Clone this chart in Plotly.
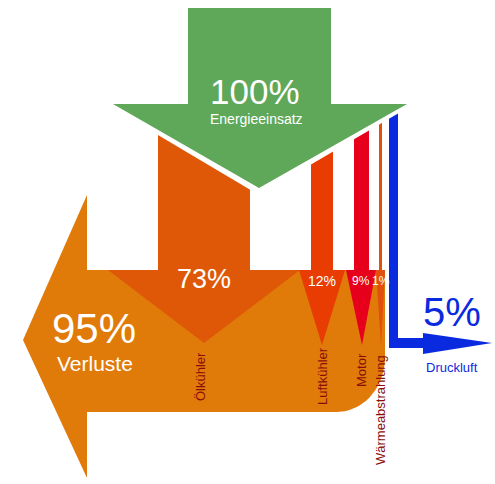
import numpy as np
import plotly.graph_objects as go

# ---- data ----
labels = ["Energieeinsatz", "Ölkühler", "Luftkühler", "Motor", "Wärmeabstrahlung", "Druckluft", "Verluste"]
percent = [100, 73, 12, 9, 1, 5, 95]

# ---- style / layout ----
GREEN = "#5FA85A"
LORANGE = "#E07A08"
DORANGE = "#DE5808"
LUFT = "#E83C02"
MOTOR = "#E6001C"
WARM = "#E2500E"
BLUE = "#0A2AE0"
DARKRED = "#8A0C0C"
FONT = "Liberation Sans, Arial, sans-serif"

W, H = 495, 484
fig = go.Figure()

def poly(xs, ys, color):
    xs = list(xs) + [xs[0]]
    ys = list(ys) + [ys[0]]
    fig.add_trace(go.Scatter(
        x=xs, y=ys, mode="lines", fill="toself", fillcolor=color,
        line=dict(color=color, width=0),
        hoverinfo="skip", showlegend=False))

# big loss arrow (left pointing) with rounded bottom-right corner
top, bot, right = 270, 412, 385
rad_x, rad_y = 48, 55
t = np.linspace(0, np.pi / 2, 20)
arc_x = (right - rad_x) + rad_x * np.sin(t)
arc_y = (bot - rad_y) + rad_y * np.cos(t)
bx = [right, 87, 87, 23, 87, 87] + list(arc_x)
by = [top, top, 195, 340, 478, bot] + list(arc_y)
poly(bx, by, LORANGE)

# flow columns ending in downward arrowheads
cols = [
    # x0, x1, head_left, head_right, apex_x, apex_y, color
    (158, 250, 108, 300, 204, 343, DORANGE),
    (311, 333, 299, 345, 322, 345, LUFT),
    (354, 369, 346, 376, 362, 345, MOTOR),
    (379, 382, 376, 385, 381, 345, WARM),
]
for x0, x1, hl, hr, ax, ay, c in cols:
    poly([x0, x1, x1, hr, ax, hl, x0],
         [104, 104, top, top, ay, top, top], c)

# compressed air (blue) arrow
poly([389, 398, 398, 423, 423, 492, 423, 423, 389],
     [104, 104, 338, 338, 333, 343, 354, 348, 348], BLUE)

# white gap band below the green arrowhead, then the green input arrow
poly([99, 421, 259], [100, 100, 195], "white")
poly([188, 331, 331, 407, 259, 113, 188],
     [8, 8, 104, 104, 188, 104, 104], GREEN)

def txt(x, y, s, size, color="white", angle=0):
    fig.add_annotation(x=x, y=y, text=s, showarrow=False, textangle=angle,
                       font=dict(family=FONT, size=size, color=color),
                       xanchor="center", yanchor="middle")

txt(255, 91, f"{percent[0]}%", 35)
txt(256, 119, labels[0], 14)
txt(204, 279, f"{percent[1]}%", 27)
txt(322, 281, f"{percent[2]}%", 14)
txt(361, 281, f"{percent[3]}%", 12)
txt(381, 281, f"{percent[4]}%", 12)
txt(94, 328, f"{percent[6]}%", 42)
txt(95, 363, labels[6], 21)
txt(452, 312, f"{percent[5]}%", 40, color=BLUE)
txt(452, 367, labels[5], 13, color=BLUE)
txt(200, 377, labels[1], 13, color=DARKRED, angle=-90)
txt(322, 376, labels[2], 13, color=DARKRED, angle=-90)
txt(361, 370, labels[3], 13, color=DARKRED, angle=-90)
txt(380, 410, labels[4], 13, color=DARKRED, angle=-90)

fig.update_layout(
    width=W, height=H, margin=dict(l=0, r=0, t=0, b=0),
    paper_bgcolor="white", plot_bgcolor="white",
    xaxis=dict(range=[0, W], visible=False, fixedrange=True),
    yaxis=dict(range=[H, 0], visible=False, fixedrange=True),
    showlegend=False,
)
fig.write_html("out.html")
